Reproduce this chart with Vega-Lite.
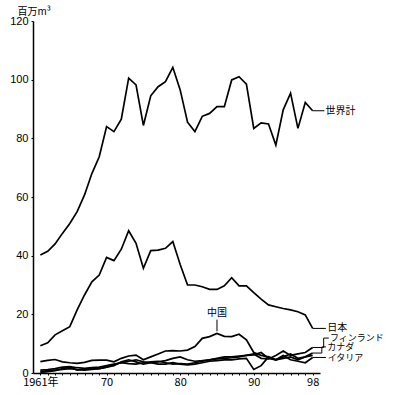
{
  "$schema": "https://vega.github.io/schema/vega-lite/v6.json",
  "width": 287,
  "height": 352,
  "autosize": "none",
  "padding": {"left": 33, "top": 21, "right": 80, "bottom": 22},
  "background": "white",
  "config": {"view": {"stroke": null}, "font": "Noto Sans CJK JP"},
  "datasets": {
    "series": [
      {"s":"世界計","x":1961,"y":40.2},{"s":"世界計","x":1962,"y":41.5},{"s":"世界計","x":1963,"y":44.0},{"s":"世界計","x":1964,"y":47.6},{"s":"世界計","x":1965,"y":51.0},{"s":"世界計","x":1966,"y":55.0},{"s":"世界計","x":1967,"y":60.7},{"s":"世界計","x":1968,"y":68.0},{"s":"世界計","x":1969,"y":73.7},{"s":"世界計","x":1970,"y":84.0},{"s":"世界計","x":1971,"y":82.3},{"s":"世界計","x":1972,"y":86.5},{"s":"世界計","x":1973,"y":100.5},{"s":"世界計","x":1974,"y":98.2},{"s":"世界計","x":1975,"y":84.4},{"s":"世界計","x":1976,"y":94.5},{"s":"世界計","x":1977,"y":97.6},{"s":"世界計","x":1978,"y":99.3},{"s":"世界計","x":1979,"y":104.2},{"s":"世界計","x":1980,"y":96.5},{"s":"世界計","x":1981,"y":85.5},{"s":"世界計","x":1982,"y":82.3},{"s":"世界計","x":1983,"y":87.5},{"s":"世界計","x":1984,"y":88.5},{"s":"世界計","x":1985,"y":90.8},{"s":"世界計","x":1986,"y":90.8},{"s":"世界計","x":1987,"y":99.9},{"s":"世界計","x":1988,"y":101.0},{"s":"世界計","x":1989,"y":98.5},{"s":"世界計","x":1990,"y":83.4},{"s":"世界計","x":1991,"y":85.3},{"s":"世界計","x":1992,"y":84.9},{"s":"世界計","x":1993,"y":77.7},{"s":"世界計","x":1994,"y":89.7},{"s":"世界計","x":1995,"y":95.4},{"s":"世界計","x":1996,"y":83.4},{"s":"世界計","x":1997,"y":92.2},{"s":"世界計","x":1998,"y":89.4},
      {"s":"日本","x":1961,"y":9.3},{"s":"日本","x":1962,"y":10.3},{"s":"日本","x":1963,"y":13.0},{"s":"日本","x":1964,"y":14.4},{"s":"日本","x":1965,"y":15.8},{"s":"日本","x":1966,"y":21.5},{"s":"日本","x":1967,"y":26.6},{"s":"日本","x":1968,"y":31.1},{"s":"日本","x":1969,"y":33.4},{"s":"日本","x":1970,"y":39.4},{"s":"日本","x":1971,"y":38.3},{"s":"日本","x":1972,"y":42.2},{"s":"日本","x":1973,"y":48.5},{"s":"日本","x":1974,"y":44.2},{"s":"日本","x":1975,"y":35.7},{"s":"日本","x":1976,"y":41.7},{"s":"日本","x":1977,"y":41.9},{"s":"日本","x":1978,"y":42.5},{"s":"日本","x":1979,"y":44.8},{"s":"日本","x":1980,"y":37.0},{"s":"日本","x":1981,"y":30.0},{"s":"日本","x":1982,"y":30.0},{"s":"日本","x":1983,"y":29.4},{"s":"日本","x":1984,"y":28.5},{"s":"日本","x":1985,"y":28.5},{"s":"日本","x":1986,"y":29.7},{"s":"日本","x":1987,"y":32.5},{"s":"日本","x":1988,"y":29.7},{"s":"日本","x":1989,"y":29.7},{"s":"日本","x":1990,"y":27.4},{"s":"日本","x":1991,"y":25.2},{"s":"日本","x":1992,"y":23.2},{"s":"日本","x":1993,"y":22.6},{"s":"日本","x":1994,"y":22.0},{"s":"日本","x":1995,"y":21.5},{"s":"日本","x":1996,"y":20.9},{"s":"日本","x":1997,"y":19.8},{"s":"日本","x":1998,"y":15.2},
      {"s":"中国","x":1961,"y":3.9},{"s":"中国","x":1962,"y":4.3},{"s":"中国","x":1963,"y":4.6},{"s":"中国","x":1964,"y":3.8},{"s":"中国","x":1965,"y":3.5},{"s":"中国","x":1966,"y":3.3},{"s":"中国","x":1967,"y":3.6},{"s":"中国","x":1968,"y":4.3},{"s":"中国","x":1969,"y":4.4},{"s":"中国","x":1970,"y":4.4},{"s":"中国","x":1971,"y":3.8},{"s":"中国","x":1972,"y":5.0},{"s":"中国","x":1973,"y":5.8},{"s":"中国","x":1974,"y":6.1},{"s":"中国","x":1975,"y":4.5},{"s":"中国","x":1976,"y":5.5},{"s":"中国","x":1977,"y":6.5},{"s":"中国","x":1978,"y":7.5},{"s":"中国","x":1979,"y":7.6},{"s":"中国","x":1980,"y":7.5},{"s":"中国","x":1981,"y":7.8},{"s":"中国","x":1982,"y":9.0},{"s":"中国","x":1983,"y":11.8},{"s":"中国","x":1984,"y":12.4},{"s":"中国","x":1985,"y":13.5},{"s":"中国","x":1986,"y":12.5},{"s":"中国","x":1987,"y":12.4},{"s":"中国","x":1988,"y":13.2},{"s":"中国","x":1989,"y":11.3},{"s":"中国","x":1990,"y":7.0},{"s":"中国","x":1991,"y":6.0},{"s":"中国","x":1992,"y":5.5},{"s":"中国","x":1993,"y":4.5},{"s":"中国","x":1994,"y":5.0},{"s":"中国","x":1995,"y":5.5},{"s":"中国","x":1996,"y":4.5},{"s":"中国","x":1997,"y":5.5},{"s":"中国","x":1998,"y":6.0},
      {"s":"フィンランド","x":1961,"y":1.0},{"s":"フィンランド","x":1962,"y":1.2},{"s":"フィンランド","x":1963,"y":1.5},{"s":"フィンランド","x":1964,"y":2.0},{"s":"フィンランド","x":1965,"y":2.2},{"s":"フィンランド","x":1966,"y":1.8},{"s":"フィンランド","x":1967,"y":1.6},{"s":"フィンランド","x":1968,"y":1.8},{"s":"フィンランド","x":1969,"y":2.0},{"s":"フィンランド","x":1970,"y":2.5},{"s":"フィンランド","x":1971,"y":3.0},{"s":"フィンランド","x":1972,"y":3.5},{"s":"フィンランド","x":1973,"y":4.0},{"s":"フィンランド","x":1974,"y":4.5},{"s":"フィンランド","x":1975,"y":3.8},{"s":"フィンランド","x":1976,"y":3.5},{"s":"フィンランド","x":1977,"y":3.8},{"s":"フィンランド","x":1978,"y":4.2},{"s":"フィンランド","x":1979,"y":5.0},{"s":"フィンランド","x":1980,"y":5.5},{"s":"フィンランド","x":1981,"y":4.5},{"s":"フィンランド","x":1982,"y":4.0},{"s":"フィンランド","x":1983,"y":4.2},{"s":"フィンランド","x":1984,"y":4.5},{"s":"フィンランド","x":1985,"y":4.8},{"s":"フィンランド","x":1986,"y":5.0},{"s":"フィンランド","x":1987,"y":5.2},{"s":"フィンランド","x":1988,"y":5.5},{"s":"フィンランド","x":1989,"y":6.0},{"s":"フィンランド","x":1990,"y":6.5},{"s":"フィンランド","x":1991,"y":5.0},{"s":"フィンランド","x":1992,"y":4.8},{"s":"フィンランド","x":1993,"y":6.0},{"s":"フィンランド","x":1994,"y":7.5},{"s":"フィンランド","x":1995,"y":6.0},{"s":"フィンランド","x":1996,"y":6.5},{"s":"フィンランド","x":1997,"y":7.0},{"s":"フィンランド","x":1998,"y":8.7},
      {"s":"カナダ","x":1961,"y":0.5},{"s":"カナダ","x":1962,"y":0.8},{"s":"カナダ","x":1963,"y":1.0},{"s":"カナダ","x":1964,"y":1.2},{"s":"カナダ","x":1965,"y":1.5},{"s":"カナダ","x":1966,"y":1.2},{"s":"カナダ","x":1967,"y":1.0},{"s":"カナダ","x":1968,"y":1.2},{"s":"カナダ","x":1969,"y":1.5},{"s":"カナダ","x":1970,"y":2.0},{"s":"カナダ","x":1971,"y":2.8},{"s":"カナダ","x":1972,"y":3.5},{"s":"カナダ","x":1973,"y":3.2},{"s":"カナダ","x":1974,"y":3.0},{"s":"カナダ","x":1975,"y":3.5},{"s":"カナダ","x":1976,"y":3.8},{"s":"カナダ","x":1977,"y":4.0},{"s":"カナダ","x":1978,"y":3.5},{"s":"カナダ","x":1979,"y":3.0},{"s":"カナダ","x":1980,"y":3.2},{"s":"カナダ","x":1981,"y":3.0},{"s":"カナダ","x":1982,"y":3.5},{"s":"カナダ","x":1983,"y":4.0},{"s":"カナダ","x":1984,"y":4.5},{"s":"カナダ","x":1985,"y":5.0},{"s":"カナダ","x":1986,"y":5.5},{"s":"カナダ","x":1987,"y":5.5},{"s":"カナダ","x":1988,"y":5.8},{"s":"カナダ","x":1989,"y":6.0},{"s":"カナダ","x":1990,"y":6.2},{"s":"カナダ","x":1991,"y":7.0},{"s":"カナダ","x":1992,"y":5.0},{"s":"カナダ","x":1993,"y":4.5},{"s":"カナダ","x":1994,"y":5.5},{"s":"カナダ","x":1995,"y":6.5},{"s":"カナダ","x":1996,"y":5.0},{"s":"カナダ","x":1997,"y":5.5},{"s":"カナダ","x":1998,"y":6.8},
      {"s":"イタリア","x":1961,"y":0.2},{"s":"イタリア","x":1962,"y":0.5},{"s":"イタリア","x":1963,"y":0.8},{"s":"イタリア","x":1964,"y":1.5},{"s":"イタリア","x":1965,"y":2.0},{"s":"イタリア","x":1966,"y":1.0},{"s":"イタリア","x":1967,"y":1.2},{"s":"イタリア","x":1968,"y":1.5},{"s":"イタリア","x":1969,"y":1.5},{"s":"イタリア","x":1970,"y":2.0},{"s":"イタリア","x":1971,"y":2.5},{"s":"イタリア","x":1972,"y":3.8},{"s":"イタリア","x":1973,"y":4.5},{"s":"イタリア","x":1974,"y":3.8},{"s":"イタリア","x":1975,"y":3.0},{"s":"イタリア","x":1976,"y":3.5},{"s":"イタリア","x":1977,"y":3.0},{"s":"イタリア","x":1978,"y":3.0},{"s":"イタリア","x":1979,"y":3.5},{"s":"イタリア","x":1980,"y":3.0},{"s":"イタリア","x":1981,"y":2.8},{"s":"イタリア","x":1982,"y":3.0},{"s":"イタリア","x":1983,"y":3.5},{"s":"イタリア","x":1984,"y":4.0},{"s":"イタリア","x":1985,"y":4.2},{"s":"イタリア","x":1986,"y":4.5},{"s":"イタリア","x":1987,"y":4.5},{"s":"イタリア","x":1988,"y":4.8},{"s":"イタリア","x":1989,"y":5.0},{"s":"イタリア","x":1990,"y":1.2},{"s":"イタリア","x":1991,"y":2.5},{"s":"イタリア","x":1992,"y":5.5},{"s":"イタリア","x":1993,"y":4.5},{"s":"イタリア","x":1994,"y":6.0},{"s":"イタリア","x":1995,"y":4.5},{"s":"イタリア","x":1996,"y":4.0},{"s":"イタリア","x":1997,"y":3.5},{"s":"イタリア","x":1998,"y":5.3}
    ],
    "leaders": [
      {"x":1998,"y":89.4,"x2":1999.6,"y2":89.4},
      {"x":1998,"y":15.2,"x2":1999.8,"y2":15.2},
      {"x":1985,"y":14.2,"x2":1985,"y2":18.2},
      {"x":1998,"y":8.7,"x2":1999.5,"y2":8.7},
      {"x":1999.5,"y":8.7,"x2":1999.5,"y2":11.9},
      {"x":1999.5,"y":11.9,"x2":2000.2,"y2":11.9},
      {"x":1998,"y":6.8,"x2":1999.25,"y2":6.8},
      {"x":1999.25,"y":6.8,"x2":1999.25,"y2":8.9},
      {"x":1999.25,"y":8.9,"x2":1999.8,"y2":8.9},
      {"x":1998,"y":5.3,"x2":1999.8,"y2":5.3}
    ],
    "labelsBig": [
      {"t":"世界計","x":1999.75,"y":89.4},
      {"t":"日本","x":2000.0,"y":15.2}
    ],
    "labelsSmall": [
      {"t":"フィンランド","x":2000.35,"y":11.9},
      {"t":"カナダ","x":2000.0,"y":8.9},
      {"t":"イタリア","x":2000.05,"y":5.1}
    ],
    "labelsCenter": [
      {"t":"中国","x":1985,"y":20.3}
    ]
  },
  "encoding": {
    "x": {"field": "x", "type": "quantitative",
      "scale": {"domain": [1960, 1999], "nice": false, "zero": false},
      "axis": {"title": null, "values": [1961,1962,1963,1964,1965,1966,1967,1968,1969,1970,1971,1972,1973,1974,1975,1976,1977,1978,1979,1980,1981,1982,1983,1984,1985,1986,1987,1988,1989,1990,1991,1992,1993,1994,1995,1996,1997,1998],
        "labelExpr": "datum.value === 1961 ? '1961年' : (indexof([1970,1980,1990,1998], datum.value) >= 0 ? format(datum.value % 100, 'd') : '')",
        "grid": false, "domainColor": "black", "domainWidth": 1.5, "tickColor": "black", "tickSize": 2, "tickWidth": 1,
        "labelColor": "black", "labelFontSize": 11, "labelFont": "Noto Sans CJK JP", "labelPadding": 1, "labelFlush": false, "labelOverlap": false, "labelBound": false}},
    "y": {"field": "y", "type": "quantitative",
      "scale": {"domain": [0, 120], "nice": false},
      "axis": {"title": "百万m³", "titleAngle": 0, "titleAlign": "left", "titleBaseline": "middle", "titleX": -16, "titleY": -10, "titleFontSize": 10, "titleFontWeight": "normal", "titleColor": "black", "titleFont": "Noto Sans CJK JP",
        "values": [0,20,40,60,80,100,120], "grid": false, "domainColor": "black", "domainWidth": 1.5, "tickColor": "black", "tickSize": 2,
        "labelColor": "black", "labelFontSize": 11, "labelFont": "Liberation Sans", "labelPadding": 3}}
  },
  "layer": [
    {
      "data": {"name": "series"},
      "mark": {"type": "line", "color": "black", "strokeWidth": 1.7, "strokeJoin": "miter"},
      "encoding": {"detail": {"field": "s"}}
    },
    {
      "data": {"name": "leaders"},
      "mark": {"type": "rule", "color": "black", "strokeWidth": 1},
      "encoding": {"x2": {"field": "x2"}, "y2": {"field": "y2"}}
    },
    {
      "data": {"name": "labelsBig"},
      "mark": {"type": "text", "color": "#000000", "fontSize": 10, "baseline": "middle", "align": "left", "font": "Noto Sans CJK JP"},
      "encoding": {"text": {"field": "t"}}
    },
    {
      "data": {"name": "labelsSmall"},
      "mark": {"type": "text", "color": "#000000", "fontSize": 9, "baseline": "middle", "align": "left", "font": "Noto Sans CJK JP"},
      "encoding": {"text": {"field": "t"}}
    },
    {
      "data": {"name": "labelsCenter"},
      "mark": {"type": "text", "color": "#000000", "fill": "#000000", "fontSize": 10, "baseline": "middle", "align": "center", "font": "Noto Sans CJK SC"},
      "encoding": {"text": {"field": "t"}}
    }
  ]
}
